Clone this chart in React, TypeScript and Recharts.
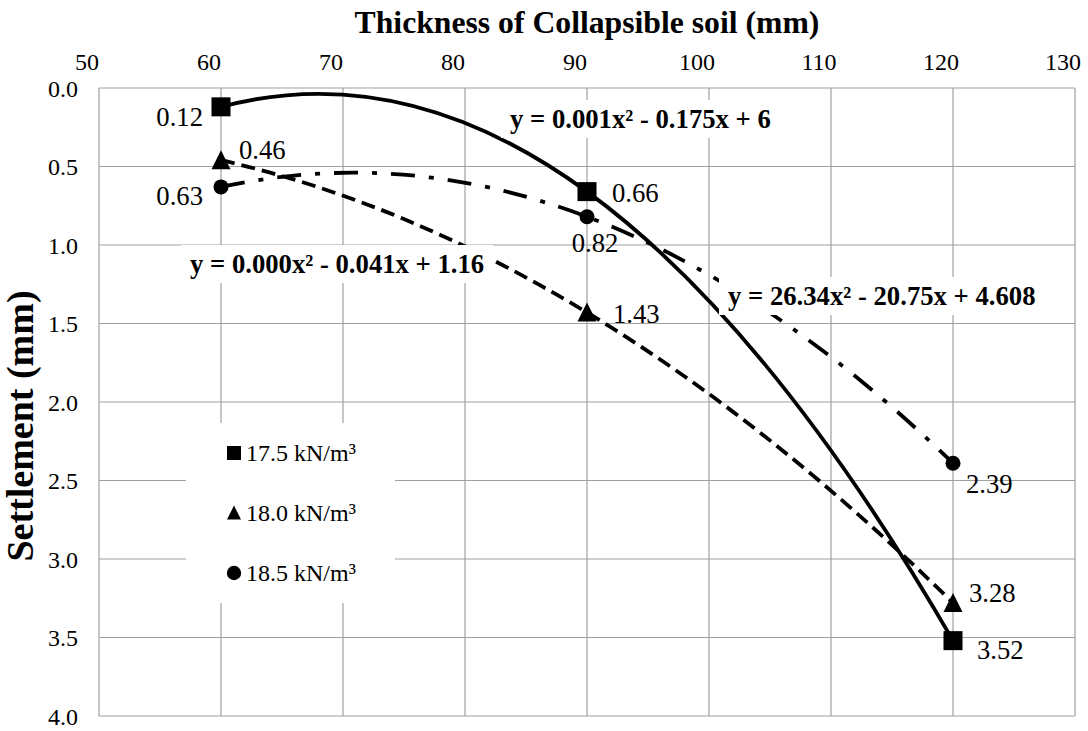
import React from 'react';
import { ScatterChart, Scatter, XAxis, YAxis, CartesianGrid, Legend } from 'recharts';

// thickness of collapsible soil (mm) and settlement (mm) for each unit weight
const thickness = [60, 90, 120];
const settle175 = [0.12, 0.66, 3.52];
const settle180 = [0.46, 1.43, 3.28];
const settle185 = [0.63, 0.82, 2.39];
const seriesNames = ['17.5 kN/m³', '18.0 kN/m³', '18.5 kN/m³'];
const xTicks = [50, 60, 70, 80, 90, 100, 110, 120, 130];
const yTicks = [0, 0.5, 1, 1.5, 2, 2.5, 3, 3.5, 4];
const trendEquations = [
  'y = 0.001x² - 0.175x + 6',
  'y = 0.000x² - 0.041x + 1.16',
  'y = 26.34x² - 20.75x + 4.608',
];

const SERIF = '"Liberation Serif", "Times New Roman", serif';

const rows = (ys: number[]) => thickness.map((x, i) => ({ x, y: ys[i] }));

type Place = { dx: number; dy: number; anchor: 'start' | 'middle' | 'end' };

// where each data label sits relative to its marker
const squarePlaces: Place[] = [
  { dx: -18, dy: 19, anchor: 'end' },
  { dx: 25, dy: 10, anchor: 'start' },
  { dx: 24, dy: 18, anchor: 'start' },
];
const trianglePlaces: Place[] = [
  { dx: 18, dy: -1, anchor: 'start' },
  { dx: 26, dy: 10, anchor: 'start' },
  { dx: 16, dy: -1, anchor: 'start' },
];
const circlePlaces: Place[] = [
  { dx: -18, dy: 18, anchor: 'end' },
  { dx: 8, dy: 35, anchor: 'middle' },
  { dx: 13, dy: 30, anchor: 'start' },
];

type Kind = 'square' | 'triangle' | 'circle';

function Marker({ kind, cx, cy, s, r }: { kind: Kind; cx: number; cy: number; s: number; r: number }) {
  const h = s / 2;
  if (kind === 'square') return <rect x={cx - h} y={cy - h} width={s} height={s} fill="#000" />;
  if (kind === 'triangle')
    return (
      <polygon
        points={`${cx},${cy - h - 0.5} ${cx + h},${cy + h - 0.5} ${cx - h},${cy + h - 0.5}`}
        fill="#000"
      />
    );
  return <circle cx={cx} cy={cy} r={r} fill="#000" />;
}

function makeShape(kind: Kind, places: Place[]) {
  return (props: any) => {
    const { cx, cy, payload } = props;
    const i = Math.max(0, thickness.indexOf(payload.x));
    const p = places[i];
    return (
      <g>
        <Marker kind={kind} cx={cx} cy={cy} s={19} r={7.5} />
        <text
          x={cx + p.dx}
          y={cy + p.dy}
          textAnchor={p.anchor}
          fontFamily={SERIF}
          fontSize={26.7}
          fill="#000"
        >
          {payload.y.toFixed(2)}
        </text>
      </g>
    );
  };
}

// 2nd order polynomial trendline: a quadratic bezier through the three points is that parabola
function trendLine(dash?: string) {
  return (props: any) => {
    const pts = props.points || [];
    if (pts.length < 3) return <g />;
    const [p0, p1, p2] = pts;
    const qx = 2 * p1.x - (p0.x + p2.x) / 2;
    const qy = 2 * p1.y - (p0.y + p2.y) / 2;
    return (
      <path
        d={`M${p0.x},${p0.y} Q${qx},${qy} ${p2.x},${p2.y}`}
        fill="none"
        stroke="#000"
        strokeWidth={3.8}
        strokeDasharray={dash}
      />
    );
  };
}

// excel puts the top axis labels a little left of their gridlines
function XTick(props: any) {
  const { x, y, payload } = props;
  return (
    <text x={x - 12} y={y} textAnchor="middle" fontFamily={SERIF} fontSize={24} fill="#000">
      {payload.value}
    </text>
  );
}

function LegendBox() {
  const kinds: Kind[] = ['square', 'triangle', 'circle'];
  return (
    <svg width={209} height={180}>
      {kinds.map((k, i) => (
        <g key={k}>
          <Marker kind={k} cx={48} cy={30 + i * 60} s={14} r={7.2} />
          <text x={60} y={30 + i * 60 + 8} fontFamily={SERIF} fontSize={24} fill="#000">
            {seriesNames[i]}
          </text>
        </g>
      ))}
    </svg>
  );
}

const eqBoxes = [
  { left: 501, top: 100 },
  { left: 181, top: 245 },
  { left: 719, top: 277 },
];

export default function App() {
  const tick = { fontSize: 24, fill: '#000', fontFamily: SERIF };
  return (
    <div style={{ position: 'absolute', left: 0, top: 0, width: 1088, height: 731, background: '#fff' }}>
      <ScatterChart width={1088} height={731} margin={{ top: 0, right: 13, bottom: 15, left: 0 }}>
        <CartesianGrid stroke="#a0a0a0" strokeWidth={1.2} />
        <XAxis
          type="number"
          dataKey="x"
          orientation="top"
          domain={[50, 130]}
          ticks={xTicks}
          interval={0}
          height={88}
          axisLine={false}
          tickLine={false}
          tickMargin={12}
          tick={<XTick />}
          label={{
            content: (p: any) => {
              const vb = p.viewBox || { x: 99, y: 0, width: 976 };
              return (
                <text
                  x={vb.x + vb.width / 2}
                  y={vb.y + 33}
                  textAnchor="middle"
                  fontFamily={SERIF}
                  fontWeight="bold"
                  fontSize={31.7}
                  fill="#000"
                >
                  Thickness of Collapsible soil (mm)
                </text>
              );
            },
          }}
        />
        <YAxis
          type="number"
          dataKey="y"
          reversed
          domain={[0, 4]}
          ticks={yTicks}
          interval={0}
          width={99}
          axisLine={false}
          tickLine={false}
          tickMargin={15}
          tick={tick}
          tickFormatter={(v: number) => v.toFixed(1)}
          label={{
            content: (p: any) => {
              const vb = p.viewBox || { x: 0, y: 88, height: 628 };
              const x = vb.x + 33;
              const y = vb.y + vb.height / 2 + 24;
              return (
                <text
                  x={x}
                  y={y}
                  transform={`rotate(-90, ${x}, ${y})`}
                  textAnchor="middle"
                  fontFamily={SERIF}
                  fontWeight="bold"
                  fontSize={38}
                  fill="#000"
                >
                  Settlement (mm)
                </text>
              );
            },
          }}
        />
        <Scatter
          name={seriesNames[0]}
          data={rows(settle175)}
          fill="#000"
          line={trendLine()}
          lineType="joint"
          shape={makeShape('square', squarePlaces)}
          isAnimationActive={false}
        />
        <Scatter
          name={seriesNames[1]}
          data={rows(settle180)}
          fill="#000"
          line={trendLine('14 7')}
          lineType="joint"
          shape={makeShape('triangle', trianglePlaces)}
          isAnimationActive={false}
        />
        <Scatter
          name={seriesNames[2]}
          data={rows(settle185)}
          fill="#000"
          line={trendLine('24 14 5 14')}
          lineType="joint"
          shape={makeShape('circle', circlePlaces)}
          isAnimationActive={false}
        />
        <Legend
          layout="vertical"
          align="center"
          verticalAlign="middle"
          wrapperStyle={{
            position: 'absolute',
            left: 186,
            top: 423,
            width: 209,
            height: 180,
            background: '#fff',
          }}
          content={() => <LegendBox />}
        />
      </ScatterChart>
      {trendEquations.map((eq, i) => (
        <div
          key={eq}
          style={{
            position: 'absolute',
            left: eqBoxes[i].left,
            top: eqBoxes[i].top,
            height: 38,
            lineHeight: '38px',
            padding: '0 9px',
            background: '#fff',
            whiteSpace: 'nowrap',
            fontFamily: SERIF,
            fontWeight: 'bold',
            fontSize: 26.7,
            color: '#000',
          }}
        >
          {eq}
        </div>
      ))}
    </div>
  );
}
